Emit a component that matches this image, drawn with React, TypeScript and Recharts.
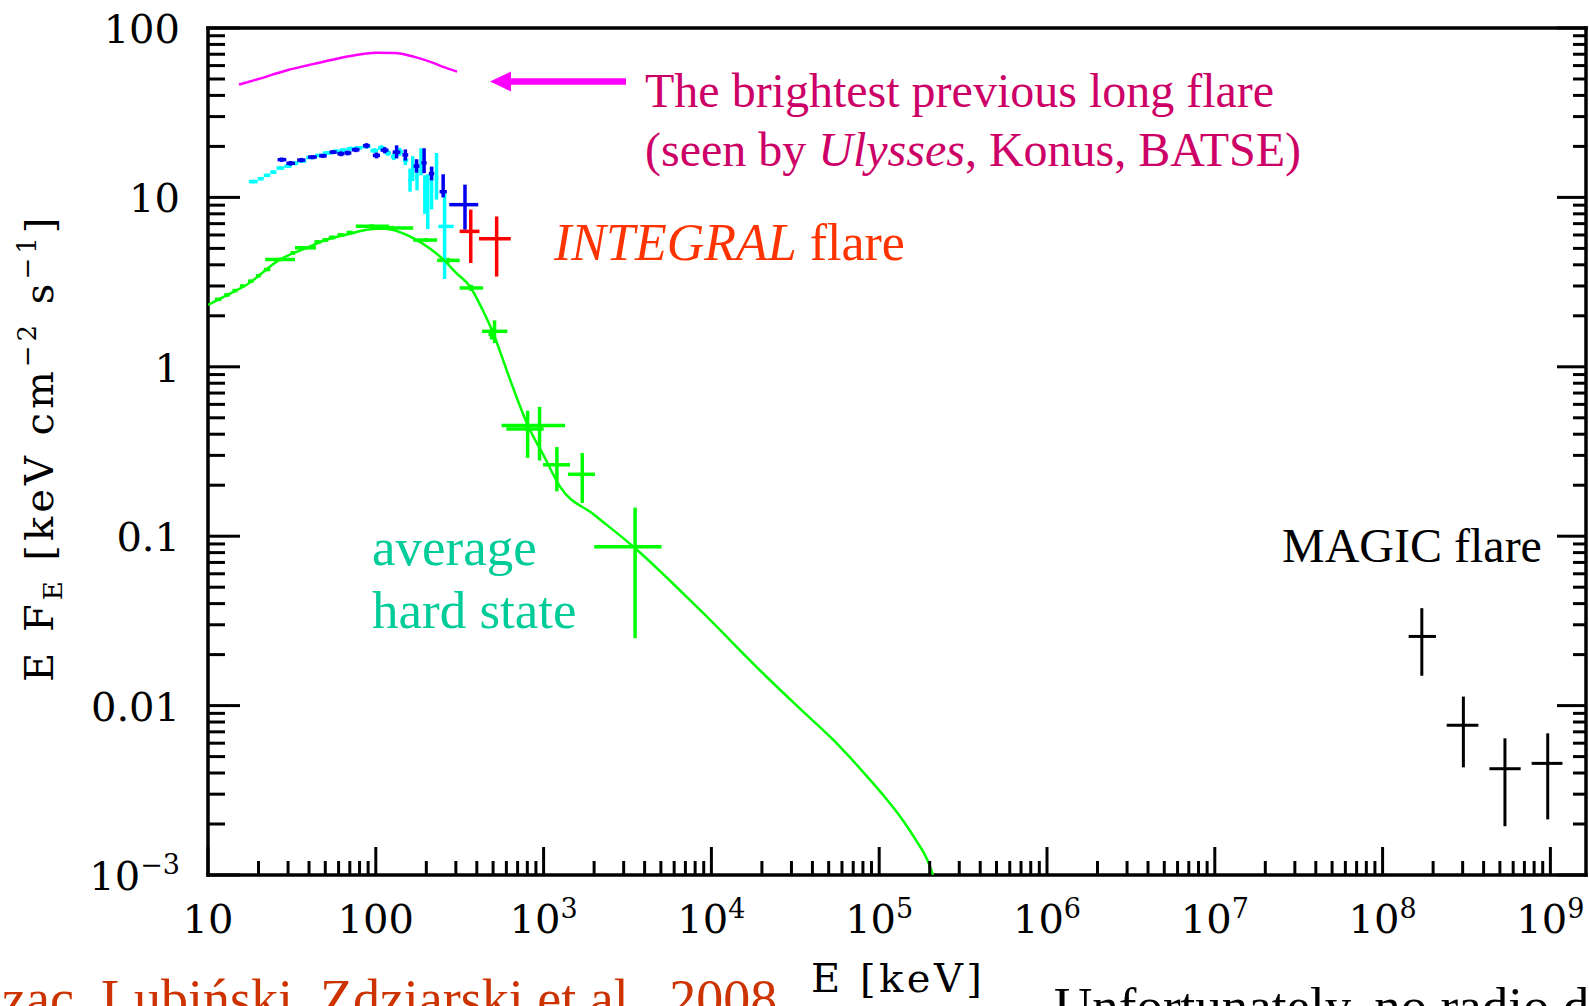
import { ScatterChart, Scatter, XAxis, YAxis, ErrorBar } from 'recharts';

const W = 1589;
const H = 1006;
const X_MIN = 10;
const X_MAX = 1.63e9;
const Y_MIN = 1e-3;
const Y_MAX = 100;

// average hard state model, E [keV] vs E F_E
const modelE = [10, 13, 17, 26.8, 38, 50.9, 70, 88, 111, 135, 167, 210, 253, 300, 364, 430, 501, 631, 811, 1000, 1253, 2000, 3430, 8550, 21300, 33700, 53300, 76900, 106000, 133000, 166000, 192000, 209000];
const modelF = [2.32, 2.65, 3.05, 4.29, 5.0, 5.62, 6.1, 6.44, 6.55, 6.3, 5.75, 5.0, 4.29, 3.6, 2.98, 2.2, 1.58, 0.84, 0.444, 0.3, 0.196, 0.134, 0.0867, 0.0367, 0.0148, 0.0096, 0.00627, 0.00425, 0.00295, 0.00222, 0.0016, 0.00125, 0.001];

// brightest previous long flare
const flareE = [15.3, 20, 30, 40, 55, 75, 100, 130, 170, 220, 260, 305];
const flareF = [46.3, 50, 56.5, 60.5, 65, 69, 71.5, 71.3, 67.5, 62.2, 58.3, 55.3];

// [E, EF, E low, E high, EF low, EF high]
const greenPts = [
  [11.5, 2.5, 11, 12, 2.45, 2.55],
  [13, 2.66, 12.5, 13.5, 2.6, 2.72],
  [14.5, 2.82, 14, 15, 2.76, 2.88],
  [16, 3.0, 15.5, 16.5, 2.94, 3.06],
  [18, 3.2, 17.3, 18.7, 3.13, 3.27],
  [20, 3.45, 19.3, 20.7, 3.38, 3.52],
  [22.5, 3.75, 21.5, 23.5, 3.67, 3.83],
  [26.8, 4.3, 21.9, 33, 4.2, 4.4],
  [32, 4.7, 31, 33, 4.6, 4.8],
  [38, 5.04, 33, 44, 4.94, 5.14],
  [45, 5.45, 43, 47, 5.3, 5.6],
  [50, 5.6, 48, 52, 5.45, 5.75],
  [55, 5.8, 52.5, 57.5, 5.65, 5.95],
  [62, 6.0, 59, 65, 5.85, 6.15],
  [70, 6.2, 67, 73, 6.05, 6.35],
  [95, 6.75, 76, 120, 6.55, 6.95],
  [125, 6.6, 100, 167, 6.4, 6.8],
  [200, 5.6, 167, 232, 5.45, 5.75],
  [270, 4.25, 232, 316, 4.1, 4.4],
  [370, 2.92, 316, 436, 2.8, 3.05],
  [490, 1.55, 470, 510, 1.45, 1.7],
  [510, 1.62, 430, 608, 1.38, 1.88],
  [803, 0.43, 600, 1000, 0.29, 0.55],
  [946, 0.45, 562, 1343, 0.28, 0.58],
  [1200, 0.264, 993, 1436, 0.184, 0.336],
  [1700, 0.232, 1396, 2023, 0.157, 0.31],
  [3510, 0.0867, 2003, 5050, 0.025, 0.1475],
];

const cyanPts = [
  [18.6, 12.4, 17.5, 19.8, 12.1, 12.7],
  [20.5, 12.9, 19.8, 21.5, 12.6, 13.2],
  [22.5, 13.5, 21.5, 23.5, 13.2, 13.8],
  [24.5, 14.1, 23.5, 25.6, 13.8, 14.4],
  [27, 14.9, 25.6, 28.5, 14.5, 15.3],
  [30, 15.3, 28.5, 31.5, 14.9, 15.7],
  [33, 15.9, 31.5, 34.5, 15.5, 16.3],
  [36.5, 16.4, 34.5, 38.5, 16.0, 16.8],
  [41, 17.2, 38.5, 43.5, 16.8, 17.6],
  [46, 17.7, 43.5, 48.5, 17.3, 18.1],
  [52, 18.3, 48.5, 55, 17.9, 18.7],
  [58, 18.7, 55, 61, 18.2, 19.2],
  [64, 19.0, 61, 67, 18.5, 19.5],
  [71, 19.4, 67, 75, 18.9, 19.9],
  [79, 19.6, 75, 83, 19.1, 20.1],
  [88, 20.0, 83, 93, 19.4, 20.6],
  [98, 18.9, 93, 103, 18.3, 19.5],
  [108, 19.6, 103, 113, 18.9, 20.3],
  [118, 18.3, 113, 123, 17.6, 19.0],
  [128, 17.4, 123, 134, 16.6, 18.2],
  [139, 18.6, 134, 145, 17.6, 19.6],
  [150, 16.6, 145, 156, 15.5, 17.7],
  [160, 12.6, 156, 164, 10.8, 14.8],
  [166, 14.8, 163, 170, 12.5, 17.5],
  [176, 13.2, 172, 180, 11.0, 15.8],
  [186, 16.0, 182, 190, 13.5, 19.5],
  [196, 10.6, 192, 200, 8.0, 13.5],
  [204, 9.3, 200, 208, 6.5, 13.7],
  [215, 11.2, 210, 220, 8.5, 15.0],
  [230, 13.0, 224, 236, 9.7, 18.3],
  [257, 6.74, 236, 291, 3.3, 10.6],
];

const bluePts = [
  [27.5, 16.7, 26, 29.3, 16.2, 17.2],
  [31, 15.9, 29.3, 33, 15.4, 16.4],
  [36, 16.6, 34, 38, 16.1, 17.1],
  [42, 17.3, 39.5, 44.5, 16.8, 17.8],
  [48.5, 17.6, 46, 51, 17.1, 18.1],
  [55.6, 18.5, 53, 58.5, 18.0, 19.0],
  [62, 18.1, 59, 65, 17.5, 18.7],
  [68, 18.3, 65, 71.5, 17.7, 18.9],
  [76, 19.1, 72, 80, 18.5, 19.7],
  [88, 20.2, 84, 92, 19.5, 20.9],
  [101, 17.7, 96, 106, 17.0, 18.4],
  [113, 19.0, 107, 119, 18.2, 19.8],
  [133, 18.5, 126, 140, 17.0, 20.3],
  [150, 17.8, 144, 156, 16.5, 19.2],
  [175, 15.3, 168, 182, 14.0, 16.8],
  [194, 16.0, 187, 201, 13.9, 19.5],
  [215, 13.8, 207, 223, 12.6, 15.2],
  [252, 10.8, 240, 265, 10.0, 13.7],
  [340, 9.06, 274, 408, 6.45, 11.9],
];

const redPts = [
  [368, 6.3, 316, 415, 4.1, 8.47],
  [525, 5.7, 412, 637, 3.41, 7.72],
];

const magicPts = [
  [1.713e8, 0.0256, 1.43e8, 2.08e8, 0.015, 0.0376],
  [3.03e8, 0.00765, 2.41e8, 3.72e8, 0.00432, 0.0113],
  [5.36e8, 0.00424, 4.33e8, 6.65e8, 0.00194, 0.00641],
  [9.64e8, 0.00456, 7.73e8, 1.18e9, 0.00213, 0.00686],
];

const xDecades = [10, 100, 1e3, 1e4, 1e5, 1e6, 1e7, 1e8, 1e9];
const xDecadeLabels = [['10', ''], ['100', ''], ['10', '3'], ['10', '4'], ['10', '5'], ['10', '6'], ['10', '7'], ['10', '8'], ['10', '9']];
const yDecades = [1e-3, 1e-2, 0.1, 1, 10, 100];
const yDecadeLabels = [['10', '−3'], ['0.01', ''], ['0.1', ''], ['1', ''], ['10', ''], ['100', '']];
const minorMults = [2, 3, 4, 5, 6, 7, 8, 9];

const withMinors = (decades: number[], max: number) => {
  const out: number[] = [];
  decades.forEach((d) => {
    out.push(d);
    minorMults.forEach((m) => {
      if (m * d <= max) out.push(m * d);
    });
  });
  return out;
};
const xTicks = withMinors(xDecades, X_MAX);
const yTicks = withMinors(yDecades, Y_MAX);

const curve = (E: number[], F: number[]) => E.map((e, i) => ({ x: e, y: F[i] }));
const crosses = (pts: number[][]) =>
  pts.map(([e, f, el, eh, fl, fh]) => ({ x: e, y: f, ex: [e - el, eh - e], ey: [f - fl, fh - f] }));

const findIdx = (arr: number[], v: number) => arr.findIndex((d) => Math.abs(d - v) / d < 1e-6);

const TICK_FONT = "'DejaVu Serif', serif";
const TEXT_FONT = "'Liberation Serif', 'Times New Roman', serif";
const MAJOR = 30;
const MINOR = 15;
const TICK_W = 3;

const BottomTick = (props: any) => {
  const { x, y, payload } = props;
  const i = findIdx(xDecades, payload.value);
  const len = i >= 0 ? MAJOR - 2 : MINOR - 1;
  return (
    <g>
      <line x1={x} x2={x} y1={y} y2={y - len} stroke="#000" strokeWidth={TICK_W} />
      {i >= 0 && (
        <text x={x} y={y + 58} textAnchor="middle" fontFamily={TICK_FONT} fontSize={40} fill="#000">
          {xDecadeLabels[i][0]}
          {xDecadeLabels[i][1] && (
            <tspan fontSize={27} dy={-15}>
              {xDecadeLabels[i][1]}
            </tspan>
          )}
        </text>
      )}
    </g>
  );
};

const TopTick = (props: any) => {
  const { x, y, payload } = props;
  const i = findIdx(xDecades, payload.value);
  const len = i >= 0 ? MAJOR : MINOR;
  return <line x1={x} x2={x} y1={y} y2={y + len} stroke="#000" strokeWidth={TICK_W} />;
};

const LeftTick = (props: any) => {
  const { x, y, payload } = props;
  const i = findIdx(yDecades, payload.value);
  const len = i >= 0 ? MAJOR + 2 : MINOR + 2;
  return (
    <g>
      <line x1={x} x2={x + len} y1={y} y2={y} stroke="#000" strokeWidth={TICK_W} />
      {i >= 0 && (
        <text x={x - 28} y={y + 15} textAnchor="end" fontFamily={TICK_FONT} fontSize={40} fill="#000">
          {yDecadeLabels[i][0]}
          {yDecadeLabels[i][1] && (
            <tspan fontSize={27} dy={-16}>
              {yDecadeLabels[i][1]}
            </tspan>
          )}
        </text>
      )}
    </g>
  );
};

const RightTick = (props: any) => {
  const { x, y, payload } = props;
  const i = findIdx(yDecades, payload.value);
  const len = i >= 0 ? MAJOR - 1 : MINOR - 2;
  return <line x1={x} x2={x - len} y1={y} y2={y} stroke="#000" strokeWidth={TICK_W} />;
};

const noDot = () => <g />;

const errSeries = (key: string, pts: number[][], color: string, w: number) => (
  <Scatter key={key} data={crosses(pts)} shape={noDot} isAnimationActive={false}>
    <ErrorBar dataKey="ex" direction="x" width={0} stroke={color} strokeWidth={w} isAnimationActive={false} />
    <ErrorBar dataKey="ey" direction="y" width={0} stroke={color} strokeWidth={w} isAnimationActive={false} />
  </Scatter>
);

const axisLine = { stroke: '#000', strokeWidth: 3.5, strokeLinecap: 'square' as const };

export default function App() {
  return (
    <div style={{ position: 'absolute', left: 0, top: 0, width: W, height: H, overflow: 'hidden', background: '#fff' }}>
      <ScatterChart width={W} height={H} margin={{ top: 0, right: 0, bottom: 0, left: 0 }}>
        <XAxis
          dataKey="x"
          type="number"
          scale="log"
          domain={[X_MIN, X_MAX]}
          allowDataOverflow
          ticks={xTicks}
          interval={0}
          height={131}
          tickLine={false}
          tickSize={0}
          tickMargin={0}
          axisLine={axisLine}
          tick={<BottomTick />}
        />
        <XAxis
          xAxisId="top"
          orientation="top"
          type="number"
          scale="log"
          domain={[X_MIN, X_MAX]}
          allowDataOverflow
          ticks={xTicks}
          interval={0}
          height={28}
          tickLine={false}
          tickSize={0}
          tickMargin={0}
          axisLine={axisLine}
          tick={<TopTick />}
        />
        <YAxis
          dataKey="y"
          type="number"
          scale="log"
          domain={[Y_MIN, Y_MAX]}
          allowDataOverflow
          ticks={yTicks}
          interval={0}
          width={208}
          tickLine={false}
          tickSize={0}
          tickMargin={0}
          axisLine={axisLine}
          tick={<LeftTick />}
        />
        <YAxis
          yAxisId="right"
          orientation="right"
          type="number"
          scale="log"
          domain={[Y_MIN, Y_MAX]}
          allowDataOverflow
          ticks={yTicks}
          interval={0}
          width={3}
          tickLine={false}
          tickSize={0}
          tickMargin={0}
          axisLine={axisLine}
          tick={<RightTick />}
        />
        <Scatter
          data={curve(flareE, flareF)}
          shape={noDot}
          line={{ stroke: '#ff00ff', strokeWidth: 2.5 }}
          lineJointType="monotoneX"
          isAnimationActive={false}
        />
        <Scatter
          data={curve(modelE, modelF)}
          shape={noDot}
          line={{ stroke: '#00ff00', strokeWidth: 2.5 }}
          lineJointType="monotoneX"
          isAnimationActive={false}
        />
        {errSeries('green', greenPts, '#00ff00', 3.5)}
        {errSeries('cyan', cyanPts, '#00ffff', 3.5)}
        {errSeries('blue', bluePts, '#0000ee', 3.5)}
        {errSeries('red', redPts, '#ff0000', 3.5)}
        {errSeries('magic', magicPts, '#000000', 3)}
      </ScatterChart>

      <svg width={W} height={H} style={{ position: 'absolute', left: 0, top: 0, pointerEvents: 'none' }}>
        {/* arrow to the flare curve */}
        <line x1={508} x2={626} y1={81.5} y2={81.5} stroke="#ff00ff" strokeWidth={6.5} />
        <polygon points="490,81.5 511,71.5 511,91.5" fill="#ff00ff" />
        <text x={645} y={107} fontFamily={TEXT_FONT} fontSize={48} fill="#cc0066">
          The brightest previous long flare
        </text>
        <text x={645} y={166} fontFamily={TEXT_FONT} fontSize={48} fill="#cc0066">
          (seen by <tspan fontStyle="italic">Ulysses</tspan>, Konus, BATSE)
        </text>
        <text x={554} y={260} fontFamily={TEXT_FONT} fontSize={52} fill="#ff3300">
          <tspan fontStyle="italic">INTEGRAL</tspan> flare
        </text>
        <text x={372} y={565} fontFamily={TEXT_FONT} fontSize={53} fill="#00cc99">
          average
        </text>
        <text x={372} y={628} fontFamily={TEXT_FONT} fontSize={53} fill="#00cc99">
          hard state
        </text>
        <text x={1282} y={562} fontFamily={TEXT_FONT} fontSize={48} fill="#000">
          MAGIC flare
        </text>
        <text x={811} y={992} fontFamily={TICK_FONT} fontSize={40} letterSpacing={3.5} fill="#000">
          E [keV]
        </text>
        <text
          x={53}
          y={682}
          transform="rotate(-90 53 682)"
          fontFamily={TICK_FONT}
          fontSize={40}
          letterSpacing={4}
          fill="#000"
        >
          E F<tspan fontSize={26} dy={9}>E</tspan>
          <tspan dy={-9}> [keV cm</tspan>
          <tspan fontSize={26} dy={-17}>−2</tspan>
          <tspan dy={17}> s</tspan>
          <tspan fontSize={26} dy={-17}>−1</tspan>
          <tspan dy={17}>]</tspan>
        </text>
        <text x={2} y={1017} fontFamily={TEXT_FONT} fontSize={54} fill="#cc3300">
          zac, Lubiński, Zdziarski et al., 2008
        </text>
        <text x={1054} y={1024} fontFamily={TEXT_FONT} fontSize={53} fill="#000">
          Unfortunately, no radio data
        </text>
      </svg>
    </div>
  );
}
